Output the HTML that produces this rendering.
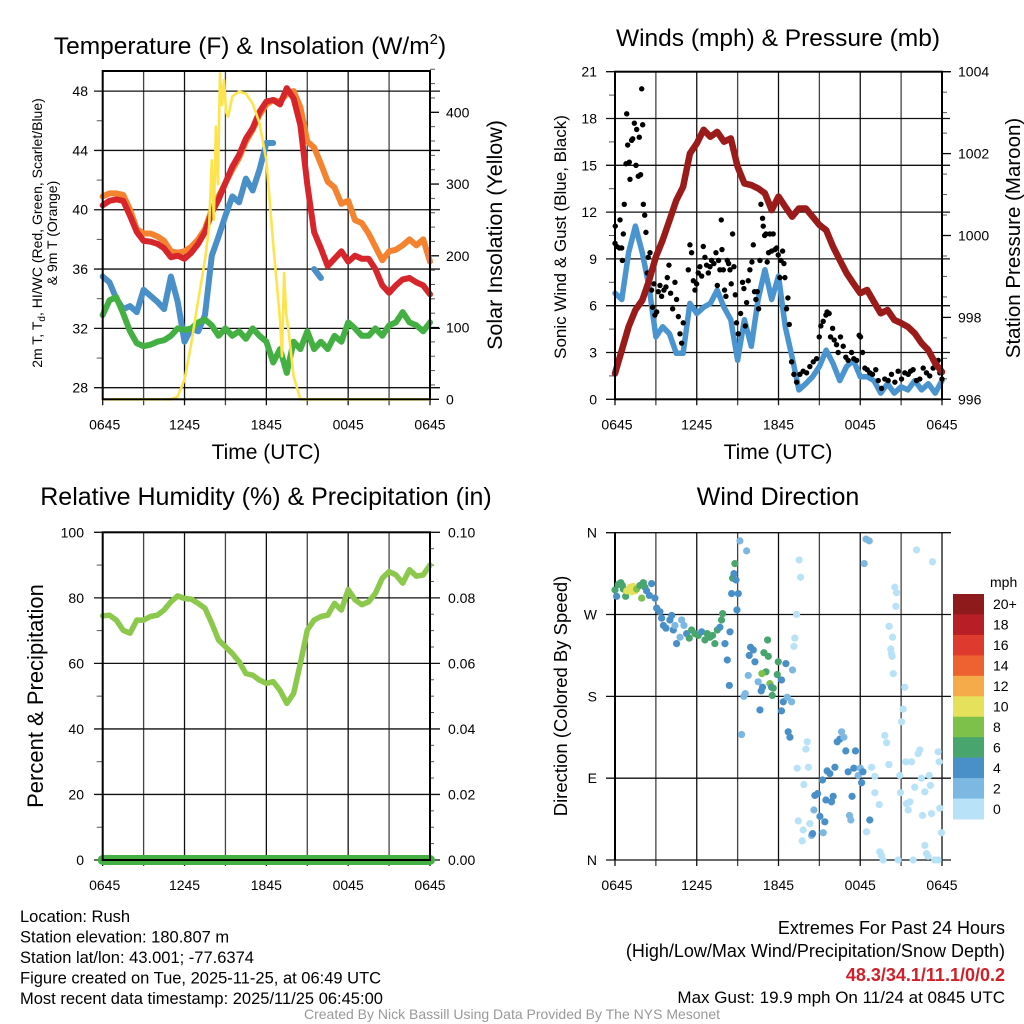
<!DOCTYPE html>
<html><head><meta charset="utf-8"><style>
html,body{margin:0;padding:0;background:#fff;}
svg{display:block;font-family:"Liberation Sans",sans-serif;}
</style></head><body>
<svg id="chart" width="1024" height="1024" viewBox="0 0 1024 1024"></svg>
<script>
// ---------- DATA ----------
const halfHours = [0,0.5,1,1.5,2,2.5,3,3.5,4,4.5,5,5.5,6,6.5,7,7.5,8,8.5,9,9.5,10,10.5,11,11.5,12,12.5,13,13.5,14,14.5,15,15.5,16,16.5,17,17.5,18,18.5,19,19.5,20,20.5,21,21.5,22,22.5,23,23.5,24];
const tempRed = [40.3,40.6,40.7,40.6,39.6,38.5,37.9,37.85,37.7,37.4,36.8,36.9,36.7,37.1,37.7,38.5,39.8,40.7,41.8,42.9,43.7,44.8,45.5,46.6,47.3,47.4,47.1,48.2,47.5,45.7,41.7,38.5,37.4,36.2,36.7,37.2,36.5,36.9,36.7,36.7,36.0,34.9,34.4,34.9,35.3,35.4,35.1,34.9,34.3];
const tempOrange = [40.9,41.1,41.1,41.0,40.0,38.7,38.4,38.4,38.2,37.9,37.2,37.1,37.2,37.5,38.0,38.7,40.0,40.9,41.8,42.7,43.5,44.6,45.4,46.4,47.1,47.4,47.3,47.8,48.0,46.9,44.6,44.2,43.1,41.9,41.5,40.4,40.6,39.3,39.1,38.4,37.5,36.6,37.2,37.3,37.6,38.0,37.6,38.0,36.5];
const tempBlue = [35.5,35.1,34.0,33.3,33.5,33.1,34.6,34.2,33.8,33.3,35.5,33.8,31.1,32.0,31.8,32.9,36.9,38.2,39.6,40.9,40.5,42.1,41.3,42.7,44.5,44.5,null,null,null,null,null,36.0,35.4,null,null,null,null,null,null,null,null,null,null,null,null,null,null,null,null];
const tempGreen = [32.9,33.9,34.1,33.0,31.8,31.0,30.8,30.9,31.1,31.2,31.5,32.0,31.9,32.0,32.4,32.6,32.2,31.5,32.0,31.5,31.8,31.3,32.0,31.5,31.1,29.7,30.6,29.0,31.1,30.6,31.8,30.6,31.1,30.6,31.5,31.1,32.4,32.0,31.5,31.5,32.0,31.5,32.2,32.4,33.1,32.4,32.2,31.8,32.4];
const solarHours = [0,5,5.5,6,6.5,7,7.5,7.8,8.0,8.15,8.3,8.45,8.6,8.75,8.9,9.05,9.2,9.5,10,10.5,11,11.5,12,12.5,13,13.15,13.3,13.45,13.6,14,14.5,24];
const solarValues = [0,0,4,27,78,138,194,240,333,250,380,300,454,410,445,400,394,422,429,426,412,385,333,217,111,60,176,120,100,32,0,0];
const windSpeed = [6.8,6.4,9.4,11.1,9.4,7.2,4.0,4.65,4.2,2.95,2.95,6.15,5.5,5.9,6.15,7.0,5.9,5.1,2.5,5.1,3.4,6.4,8.3,6.4,7.9,4.65,2.7,0.6,1.0,1.45,2.1,3.15,2.3,1.2,2.1,2.5,1.45,1.45,1.2,0.4,1.0,0.4,0.8,0.6,1.2,0.6,1.0,0.4,1.2];
const pressure = [996.63,997.2,997.77,998.18,998.42,998.9,999.48,999.89,1000.37,1000.86,1001.19,1002.0,1002.25,1002.58,1002.41,1002.53,1002.29,1002.37,1001.68,1001.27,1001.23,1001.15,1001.03,1000.62,1000.95,1000.7,1000.46,1000.66,1000.66,1000.46,1000.26,1000.13,999.73,999.4,999.08,998.83,998.59,998.67,998.38,998.1,998.18,997.94,997.86,997.77,997.61,997.37,997.2,996.88,996.67];
const gustHours = [0,0.02,0.12,0.32,0.37,0.49,0.54,0.61,0.68,0.81,0.86,0.93,1.05,1.1,1.22,1.3,1.42,1.54,1.59,1.71,1.78,1.88,1.96,2.03,2.08,2.18,2.27,2.37,2.44,2.57,2.69,2.76,2.86,2.93,3.06,3.18,3.3,3.42,3.59,3.74,3.84,3.96,4.08,4.23,4.4,4.52,4.65,4.77,4.89,5.01,5.38,5.5,5.62,5.75,5.87,5.99,6.11,6.23,6.36,6.48,6.6,6.72,6.85,6.97,7.09,7.26,7.41,7.51,7.6,7.7,7.8,7.85,7.95,8.04,8.14,8.24,8.34,8.44,8.53,8.63,8.73,8.83,8.92,9.05,9.22,9.36,9.46,9.56,9.66,9.78,9.9,10.05,10.15,10.24,10.34,10.44,10.54,10.64,10.71,10.83,10.88,10.98,11.08,11.17,11.27,11.37,11.49,11.61,11.74,11.86,11.98,12.1,12.18,12.3,12.4,12.47,12.59,12.69,12.79,12.96,13.13,13.33,13.57,13.81,14.06,14.3,14.55,14.79,14.99,15.11,15.28,15.48,15.57,15.72,15.82,15.97,16.09,16.26,16.38,16.55,16.75,16.94,17.11,17.36,17.53,17.73,17.92,18.02,18.17,18.34,18.51,18.7,18.9,19.14,19.32,19.56,19.8,20.05,20.29,20.54,20.78,21.03,21.27,21.52,21.69,21.88,22.13,22.37,22.62,22.86,23.1,23.35,23.59,23.72,23.84,24.0];
const gustValues = [10.0,11.1,9.8,9.7,11.5,9.7,8.9,10.6,12.5,15.1,18.3,16.3,15.2,14.1,16.6,16.7,17.7,15.0,17.3,14.3,16.8,14.4,19.9,17.6,12.5,11.8,10.7,8.1,9.1,9.4,7.0,5.9,7.4,5.4,5.6,6.9,7.3,6.6,7.0,7.2,7.8,8.6,6.8,5.8,7.5,6.4,5.3,4.2,3.6,4.9,8.3,9.9,9.4,7.6,7.0,7.4,8.1,8.5,7.9,9.8,9.1,8.6,8.1,8.5,8.9,8.7,9.4,7.3,8.9,8.3,11.5,9.6,8.3,7.0,6.6,8.9,8.7,8.3,7.4,10.6,8.5,6.7,4.9,4.2,5.5,7.5,7.1,4.7,6.2,7.6,8.3,8.8,9.9,6.9,6.4,6.9,5.8,8.9,12.5,11.6,11.1,10.5,10.6,8.8,9.4,10.6,9.5,10.6,9.6,9.7,9.25,7.8,8.9,9.5,8.7,7.8,5.8,6.5,4.8,2.4,1.6,1.1,1.6,1.8,1.7,2.1,2.4,2.6,4.0,4.7,5.0,5.4,5.6,5.5,4.0,4.55,3.8,3.5,3.0,4.0,3.4,2.7,2.5,3.0,2.6,2.5,4.1,4.0,3.0,2.0,1.9,1.7,1.6,1.9,1.2,0.7,1.3,1.2,1.6,1.1,1.8,1.3,1.7,1.6,1.8,1.9,1.2,1.3,2.0,1.7,1.5,2.0,2.3,2.5,1.7,1.3];
const rhValues = [74.5,74.7,73.2,70.1,69.2,73.2,73.2,74.3,74.7,76.3,78.8,80.6,79.8,79.6,78.3,76.8,72.2,67.1,65.1,63.0,60.5,56.9,56.4,54.9,53.9,54.4,51.8,47.8,50.8,60.0,70.2,73.2,74.3,74.7,78.3,76.3,82.5,79.4,77.9,78.8,81.4,86.0,88.0,87.0,84.5,88.6,86.6,87.0,90.0];
const precipValues = [0,0,0,0,0,0,0,0,0,0,0,0,0,0,0,0,0,0,0,0,0,0,0,0,0,0,0,0,0,0,0,0,0,0,0,0,0,0,0,0,0,0,0,0,0,0,0,0,0];
const dirHours = [0,0.12,0.24,0.42,0.54,0.61,0.78,0.86,1.1,1.22,1.34,1.47,1.3,1.59,1.83,1.96,2.08,2.2,2.32,2.52,2.69,2.93,3.06,3.3,3.42,3.55,3.74,4.03,4.16,4.28,4.4,4.52,4.77,4.89,5.06,5.26,5.45,5.62,5.87,6.11,6.36,6.6,6.77,6.97,7.16,7.33,7.51,7.7,7.82,7.9,8.07,8.24,8.39,8.44,8.56,8.63,8.73,8.8,8.88,8.95,9.05,9.17,9.66,9.29,9.46,9.56,9.78,9.85,9.95,10.15,10.27,10.51,10.64,10.73,10.83,10.93,11.2,11.25,11.08,10.78,11.37,11.49,11.61,11.54,11.91,11.98,12.22,12.35,12.22,12.54,12.64,12.96,13.03,12.71,12.84,13.33,13.52,13.62,13.2,13.13,13.37,13.86,14.01,14.11,14.2,13.45,13.74,13.81,14.3,14.43,14.6,14.67,14.87,15.04,15.28,15.4,14.5,15.23,15.48,15.57,15.77,15.89,16.01,16.14,16.31,16.5,16.63,16.8,16.94,17.11,17.21,17.31,17.4,17.53,17.65,17.85,18.0,18.1,18.2,18.29,18.42,18.66,18.7,18.83,19.07,19.07,19.39,18.46,19.44,19.56,19.68,19.8,19.93,20.1,20.12,20.29,20.37,20.24,20.34,20.42,20.54,20.66,20.61,20.78,20.9,20.95,21.03,21.15,21.27,21.34,21.39,21.52,21.64,21.76,21.88,22.0,22.13,22.25,22.37,22.49,22.57,22.74,22.74,22.86,22.98,23.06,23.15,23.23,23.3,23.47,23.72,23.72,23.79,23.84,23.96];
const dirDegrees = [297,290,303,305,302,298,290,296,300,295,301,296,298,298,302,288,305,300,296,291,304,288,277,273,266,258,255,264,269,253,258,238,245,264,258,249,244,253,249,247,251,242,249,245,247,238,253,256,264,271,238,220,192,251,293,310,315,326,308,275,293,351,340,138,180,183,203,225,234,231,218,196,165,186,190,228,242,224,207,205,194,190,189,181,204,218,198,174,164,216,179,174,209,141,135,270,330,311,244,235,101,83,122,130,102,43,21,33,40,27,55,71,73,48,30,42,29,88,66,98,95,64,70,102,130,133,141,135,120,97,49,44,70,101,120,93,101,85,97,326,353,351,44,102,92,74,61,31,9,5,0,137,129,105,257,227,245,232,224,205,300,294,279,0,93,74,152,166,190,108,62,55,64,108,0,80,341,117,121,90,49,75,16,7,4,93,82,51,328,0,0,119,108,57,30];
const dirSpeeds = [7,5,7,7,7,7,7,11,11,11,11,11,11,9,7,9,7,7,5,5,5,5,5,5,5,5,5,5,5,5,3,5,3,3,3,5,7,7,7,7,5,7,7,7,7,7,7,5,7,7,5,5,5,5,5,7,5,7,5,5,5,3,3,3,3,3,3,5,5,5,5,3,5,5,5,7,7,7,7,9,9,5,7,7,7,7,5,5,5,5,3,3,3,5,5,1,1,1,1,1,1,1,1,1,1,1,1,1,1,3,3,5,5,5,3,5,5,5,5,5,5,5,5,5,5,5,3,3,5,5,3,3,5,5,5,3,3,5,5,3,3,3,5,1,1,1,1,1,1,1,1,1,1,1,1,1,1,1,1,1,1,1,1,1,1,1,1,1,1,1,1,1,1,1,1,1,1,1,1,1,1,1,1,1,1,1,1,1,1,1,1,1,1,1,1,1,3,1,1,1];
const speedLabels = ["20+","18","16","14","12","10","8","6","4","2","0"];
const speedColors = ["#8e1a1c","#b81e26","#df3a2e","#ee6130","#f6ab4b","#e6e15a","#7dc04a","#49a56e","#4a90c8","#7db8e3","#b7e2f7"];
const tempTicks = [28,32,36,40,44,48];
const solarTicks = [0,100,200,300,400];
const windTicks = [0,3,6,9,12,15,18,21];
const presTicks = [996,998,1000,1002,1004];
const rhTicks = [0,20,40,60,80,100];
const precipTicks = ["0.00","0.02","0.04","0.06","0.08","0.10"];
const dirTicks = ["N","E","S","W","N"];
const timeLabels = ["0645","1245","1845","0045","0645"];

// ---------- HELPERS ----------
const NS = "http://www.w3.org/2000/svg";
const svg = document.getElementById('chart');
function mk(tag, attrs, parent){
  const e = document.createElementNS(NS, tag);
  for (const k in attrs) e.setAttribute(k, attrs[k]);
  (parent || svg).appendChild(e);
  return e;
}
function txt(s, x, y, size, anchor, parent, extra){
  const t = mk('text', Object.assign({x:x, y:y, 'font-size':size, 'text-anchor':anchor||'middle', fill:'#000'}, extra||{}), parent);
  t.textContent = s;
  return t;
}
function polyPath(xs, ys){
  let d = '', pen = false;
  for (let i=0;i<xs.length;i++){
    if (ys[i]===null || ys[i]===undefined){ pen=false; continue; }
    d += (pen?'L':'M') + xs[i].toFixed(1) + ' ' + ys[i].toFixed(1) + ' ';
    pen = true;
  }
  return d;
}

// ---------- PANEL GEOMETRY ----------
function panel(name, x0, y0, w, h){
  const g = mk('g', {});
  
  
  return {g:g, x0:x0, y0:y0, w:w, h:h, xs:(hr)=>x0 + hr*w/24};
}
function timeGrid(p){
  for (let k=0;k<=8;k++){
    const x = p.x0 + k*p.w/8;
    const gl = mk('line', {x1:x, y1:p.y0, x2:x, y2:p.y0+p.h+6, stroke: (k%2? '#444':'#111'), 'stroke-width':1.3}, p.g);
    
    
  }
  for (let k=0;k<timeLabels.length;k++){
    const t = txt(timeLabels[k], p.x0 + k*p.w/4 + (k===0?2:0), p.y0+p.h+30, 14, 'middle', p.g);
    
    
  }
}
function hGrid(p, ys, x1, x2){
  ys.forEach(y=>{
    const l = mk('line', {x1:x1, y1:y, x2:x2, y2:y, stroke:'#111', 'stroke-width':1.3}, p.g);
    
    
  });
}
function box(p){
  const b = mk('rect', {x:p.x0, y:p.y0, width:p.w, height:p.h, fill:'none', stroke:'#000', 'stroke-width':2}, p.g);
  
  
}
function minorTicks(p, x, ys, dir, len){
  ys.forEach(y=>{
    const l = mk('line', {x1:x, y1:y, x2:x+dir*len, y2:y, stroke:'#555', 'stroke-width':1}, p.g);
    
    
  });
}

// ================= PANEL 1: TEMPERATURE =================
const p1 = panel('temperature-panel', 102.7, 71, 327.3, 328.3);
const tY = v => 387.7 - (v-28)*14.83;
const sY = v => 399.3 - v*0.7175;
timeGrid(p1);
hGrid(p1, tempTicks.map(tY), 94, 440);
{
  const mins=[]; for (let v=30; v<=48; v+=4) mins.push(tY(v));
  minorTicks(p1, p1.x0, mins, -1, 6);
  const rm=[]; for (let v=20; v<=460; v+=20) if (v%100) rm.push(sY(v));
  minorTicks(p1, p1.x0+p1.w, rm, 1, 5);
  solarTicks.forEach(v=>{ const l=mk('line',{x1:p1.x0+p1.w,y1:sY(v),x2:p1.x0+p1.w+9,y2:sY(v),stroke:'#000','stroke-width':1.3},p1.g);
    
     });
}
tempTicks.forEach(v=>{ const t=txt(String(v), 88, tY(v)+5, 14, 'end', p1.g);
  
   });
solarTicks.forEach(v=>{ const t=txt(String(v), 446, sY(v)+5, 14, 'start', p1.g);
  
   });
const hx1 = halfHours.map(p1.xs);
[[tempOrange,'#f5822e','series-9m-temp'],[tempRed,'#d7262b','series-2m-temp'],[tempBlue,'#4a90c8','series-hi-wc'],[tempGreen,'#44b044','series-dewpoint']].forEach(s=>{
  const pth = mk('path', {d:polyPath(hx1, s[0].map(v=>v===null?null:tY(v))), fill:'none', stroke:s[1], 'stroke-width':6, 'stroke-linejoin':'round', 'stroke-linecap':'round'}, p1.g);
  
  
});
{
  const pth = mk('path', {d:polyPath(solarHours.map(p1.xs), solarValues.map(sY)), fill:'none', stroke:'#fde44d', 'stroke-width':2.6, 'stroke-linejoin':'round'}, p1.g);
  
  
}
box(p1);
{
  const t = txt('Temperature (F) & Insolation (W/m', 250, 54, 24.5, 'middle', svg);
  const sup = mk('tspan', {dy:-10, 'font-size':15}, t); sup.textContent='2';
  const cl = mk('tspan', {dy:10}, t); cl.textContent=')';
  
  
  const xt = txt('Time (UTC)', 266, 459, 21, 'middle');
  
  
  const l1 = txt('', 0, 0, 14, 'middle', svg, {transform:'translate(42,233) rotate(-90)'});
  l1.innerHTML = '2m T, T<tspan dy="3" font-size="10">d</tspan><tspan dy="-3">, HI/WC (Red, Green, Scarlet/Blue)</tspan>';
  
  
  const l2 = txt('& 9m T (Orange)', 0, 0, 14, 'middle', svg, {transform:'translate(57,233) rotate(-90)'});
  
  
  const r = txt('Solar Insolation (Yellow)', 0, 0, 21.5, 'middle', svg, {transform:'translate(502,235) rotate(-90)'});
  
  
}

// ================= PANEL 2: WINDS =================
const p2 = panel('winds-panel', 615, 71.7, 327, 327.6);
const wY = v => 399.3 - v*15.6;
const pY = v => 399.3 - (v-996)*40.95;
timeGrid(p2);
hGrid(p2, windTicks.map(wY), 606, 950);
{
  const mins=[]; for (let v=1.5; v<21; v+=3) mins.push(wY(v));
  minorTicks(p2, p2.x0, mins, -1, 6);
  const rm=[]; for (let v=996.5; v<1004; v+=0.5) if (v%2) rm.push(pY(v));
  minorTicks(p2, p2.x0+p2.w, rm, 1, 5);
  presTicks.forEach(v=>{ const l=mk('line',{x1:p2.x0+p2.w,y1:pY(v),x2:p2.x0+p2.w+9,y2:pY(v),stroke:'#000','stroke-width':1.3},p2.g);
    
     });
}
windTicks.forEach(v=>{ const t=txt(String(v), 597, wY(v)+5, 14, 'end', p2.g);
  
   });
presTicks.forEach(v=>{ const t=txt(String(v), 958, pY(v)+5, 14, 'start', p2.g);
  
   });
{
  const hx2 = halfHours.map(p2.xs);
  const ws = mk('path', {d:polyPath(hx2, windSpeed.map(wY)), fill:'none', stroke:'#4a94cf', 'stroke-width':5.5, 'stroke-linejoin':'round','stroke-linecap':'round'}, p2.g);
  
  
  for (let i=0;i<gustHours.length;i++){
    const c = mk('circle', {cx:p2.xs(gustHours[i]), cy:wY(gustValues[i]), r:2.7, fill:'#000'}, p2.g);
    
    
  }
  const pr = mk('path', {d:polyPath(hx2, pressure.map(pY)), fill:'none', stroke:'#9b1b1b', 'stroke-width':6.5, 'stroke-linejoin':'round','stroke-linecap':'round'}, p2.g);
  
  
}
box(p2);
{
  const t = txt('Winds (mph) & Pressure (mb)', 778, 46, 24.5, 'middle');
  
  
  const xt = txt('Time (UTC)', 778, 459, 21, 'middle');
  
  
  const l = txt('Sonic Wind & Gust (Blue, Black)', 0, 0, 17, 'middle', svg, {transform:'translate(566,237) rotate(-90)'});
  
  
  const r = txt('Station Pressure (Maroon)', 0, 0, 20.5, 'middle', svg, {transform:'translate(1020,238) rotate(-90)'});
  
  
}

// ================= PANEL 3: RH =================
const p3 = panel('humidity-panel', 102.7, 532.3, 327.3, 327.7);
const rY = v => 860 - v*3.277;
const pcY = v => 860 - v*3277;
timeGrid(p3);
hGrid(p3, rhTicks.map(rY), 94, 440);
{
  const mins=[]; for (let v=10; v<100; v+=20) mins.push(rY(v));
  minorTicks(p3, p3.x0, mins, -1, 6);
  const rm=[]; for (let v=5; v<100; v+=5) if (v%20) rm.push(rY(v));
  minorTicks(p3, p3.x0+p3.w, rm, 1, 4);
}
rhTicks.forEach(v=>{ const t=txt(String(v), 84, rY(v)+5, 14, 'end', p3.g);
  
   });
precipTicks.forEach((s,i)=>{ const t=txt(s, 448, rY(i*20)+5, 14, 'start', p3.g);
  
   });
{
  const hx3 = halfHours.map(p3.xs);
  const pc = mk('path', {d:polyPath(hx3, precipValues.map(pcY)), fill:'none', stroke:'#44b044', 'stroke-width':10, 'stroke-linecap':'round'}, p3.g);
  
  
  const rh = mk('path', {d:polyPath(hx3, rhValues.map(rY)), fill:'none', stroke:'#8cc84b', 'stroke-width':5.5, 'stroke-linejoin':'round','stroke-linecap':'round'}, p3.g);
  
  
}
box(p3);
{
  const t = txt('Relative Humidity (%) & Precipitation (in)', 266, 505, 25, 'middle');
  
  
  const l = txt('Percent & Precipitation', 0, 0, 22, 'middle', svg, {transform:'translate(43,696) rotate(-90)'});
  
  
}

// ================= PANEL 4: WIND DIRECTION =================
const p4 = panel('direction-panel', 615, 532.7, 327, 327.3);
const dY = d => 860 - d*0.9092;
timeGrid(p4);
hGrid(p4, [0,90,180,270,360].map(dY), 606, 951);
{
  const lf = mk('line',{x1:p4.x0,y1:p4.y0,x2:p4.x0,y2:p4.y0+p4.h,stroke:'#000','stroke-width':2},p4.g);
  
  
}
dirTicks.forEach((s,i)=>{ const t=txt(s, 597, dY(i*90)+5, 14, 'end', p4.g);
  
   });
function speedColor(sp){ const idx = Math.min(10, Math.floor(sp/2)); return speedColors[10-idx]; }
for (let i=0;i<dirHours.length;i++){
  const c = mk('circle', {cx:p4.xs(dirHours[i]), cy:dY(dirDegrees[i]), r:3.6, fill:speedColor(dirSpeeds[i])}, p4.g);
  
  
}
{
  const t = txt('Wind Direction', 778, 505, 25, 'middle');
  
  
  const l = txt('Direction (Colored By Speed)', 0, 0, 18.5, 'middle', svg, {transform:'translate(567,696) rotate(-90)'});
  
  
  const cb = mk('g', {});
  
  
  const bh = 225/11;
  for (let i=0;i<11;i++){
    const r = mk('rect', {x:953, y:594+i*bh, width:31, height:bh+0.5, fill:speedColors[i]}, cb);
    
    
    const t = txt(speedLabels[i], 993, 594+i*bh+bh/2+5, 14, 'start', cb);
    
    
  }
  const u = txt('mph', 990, 587, 14, 'start', cb);
  
  
}

// ================= FOOTER TEXT =================
const leftLines = ["Location: Rush","Station elevation: 180.807 m","Station lat/lon: 43.001; -77.6374","Figure created on Tue, 2025-11-25, at 06:49 UTC","Most recent data timestamp: 2025/11/25 06:45:00"];
leftLines.forEach((s,i)=>{ const t=txt(s, 20, 922+i*20.5, 16.5, 'start');
  
   });
{
  const a = txt('Extremes For Past 24 Hours', 1005, 934, 18, 'end');
  
  
  const b = txt('(High/Low/Max Wind/Precipitation/Snow Depth)', 1005, 957, 18, 'end');
  
  
  const c = txt('48.3/34.1/11.1/0/0.2', 1005, 981, 18, 'end', svg, {fill:'#d0202a','font-weight':'bold'});
  
  
  const d = txt('Max Gust: 19.9 mph On 11/24 at 0845 UTC', 1005, 1003, 17, 'end');
  
  
  const e = txt('Created By Nick Bassill Using Data Provided By The NYS Mesonet', 512, 1019, 14, 'middle', svg, {fill:'#999'});
  
  
}
</script>
</body></html>
